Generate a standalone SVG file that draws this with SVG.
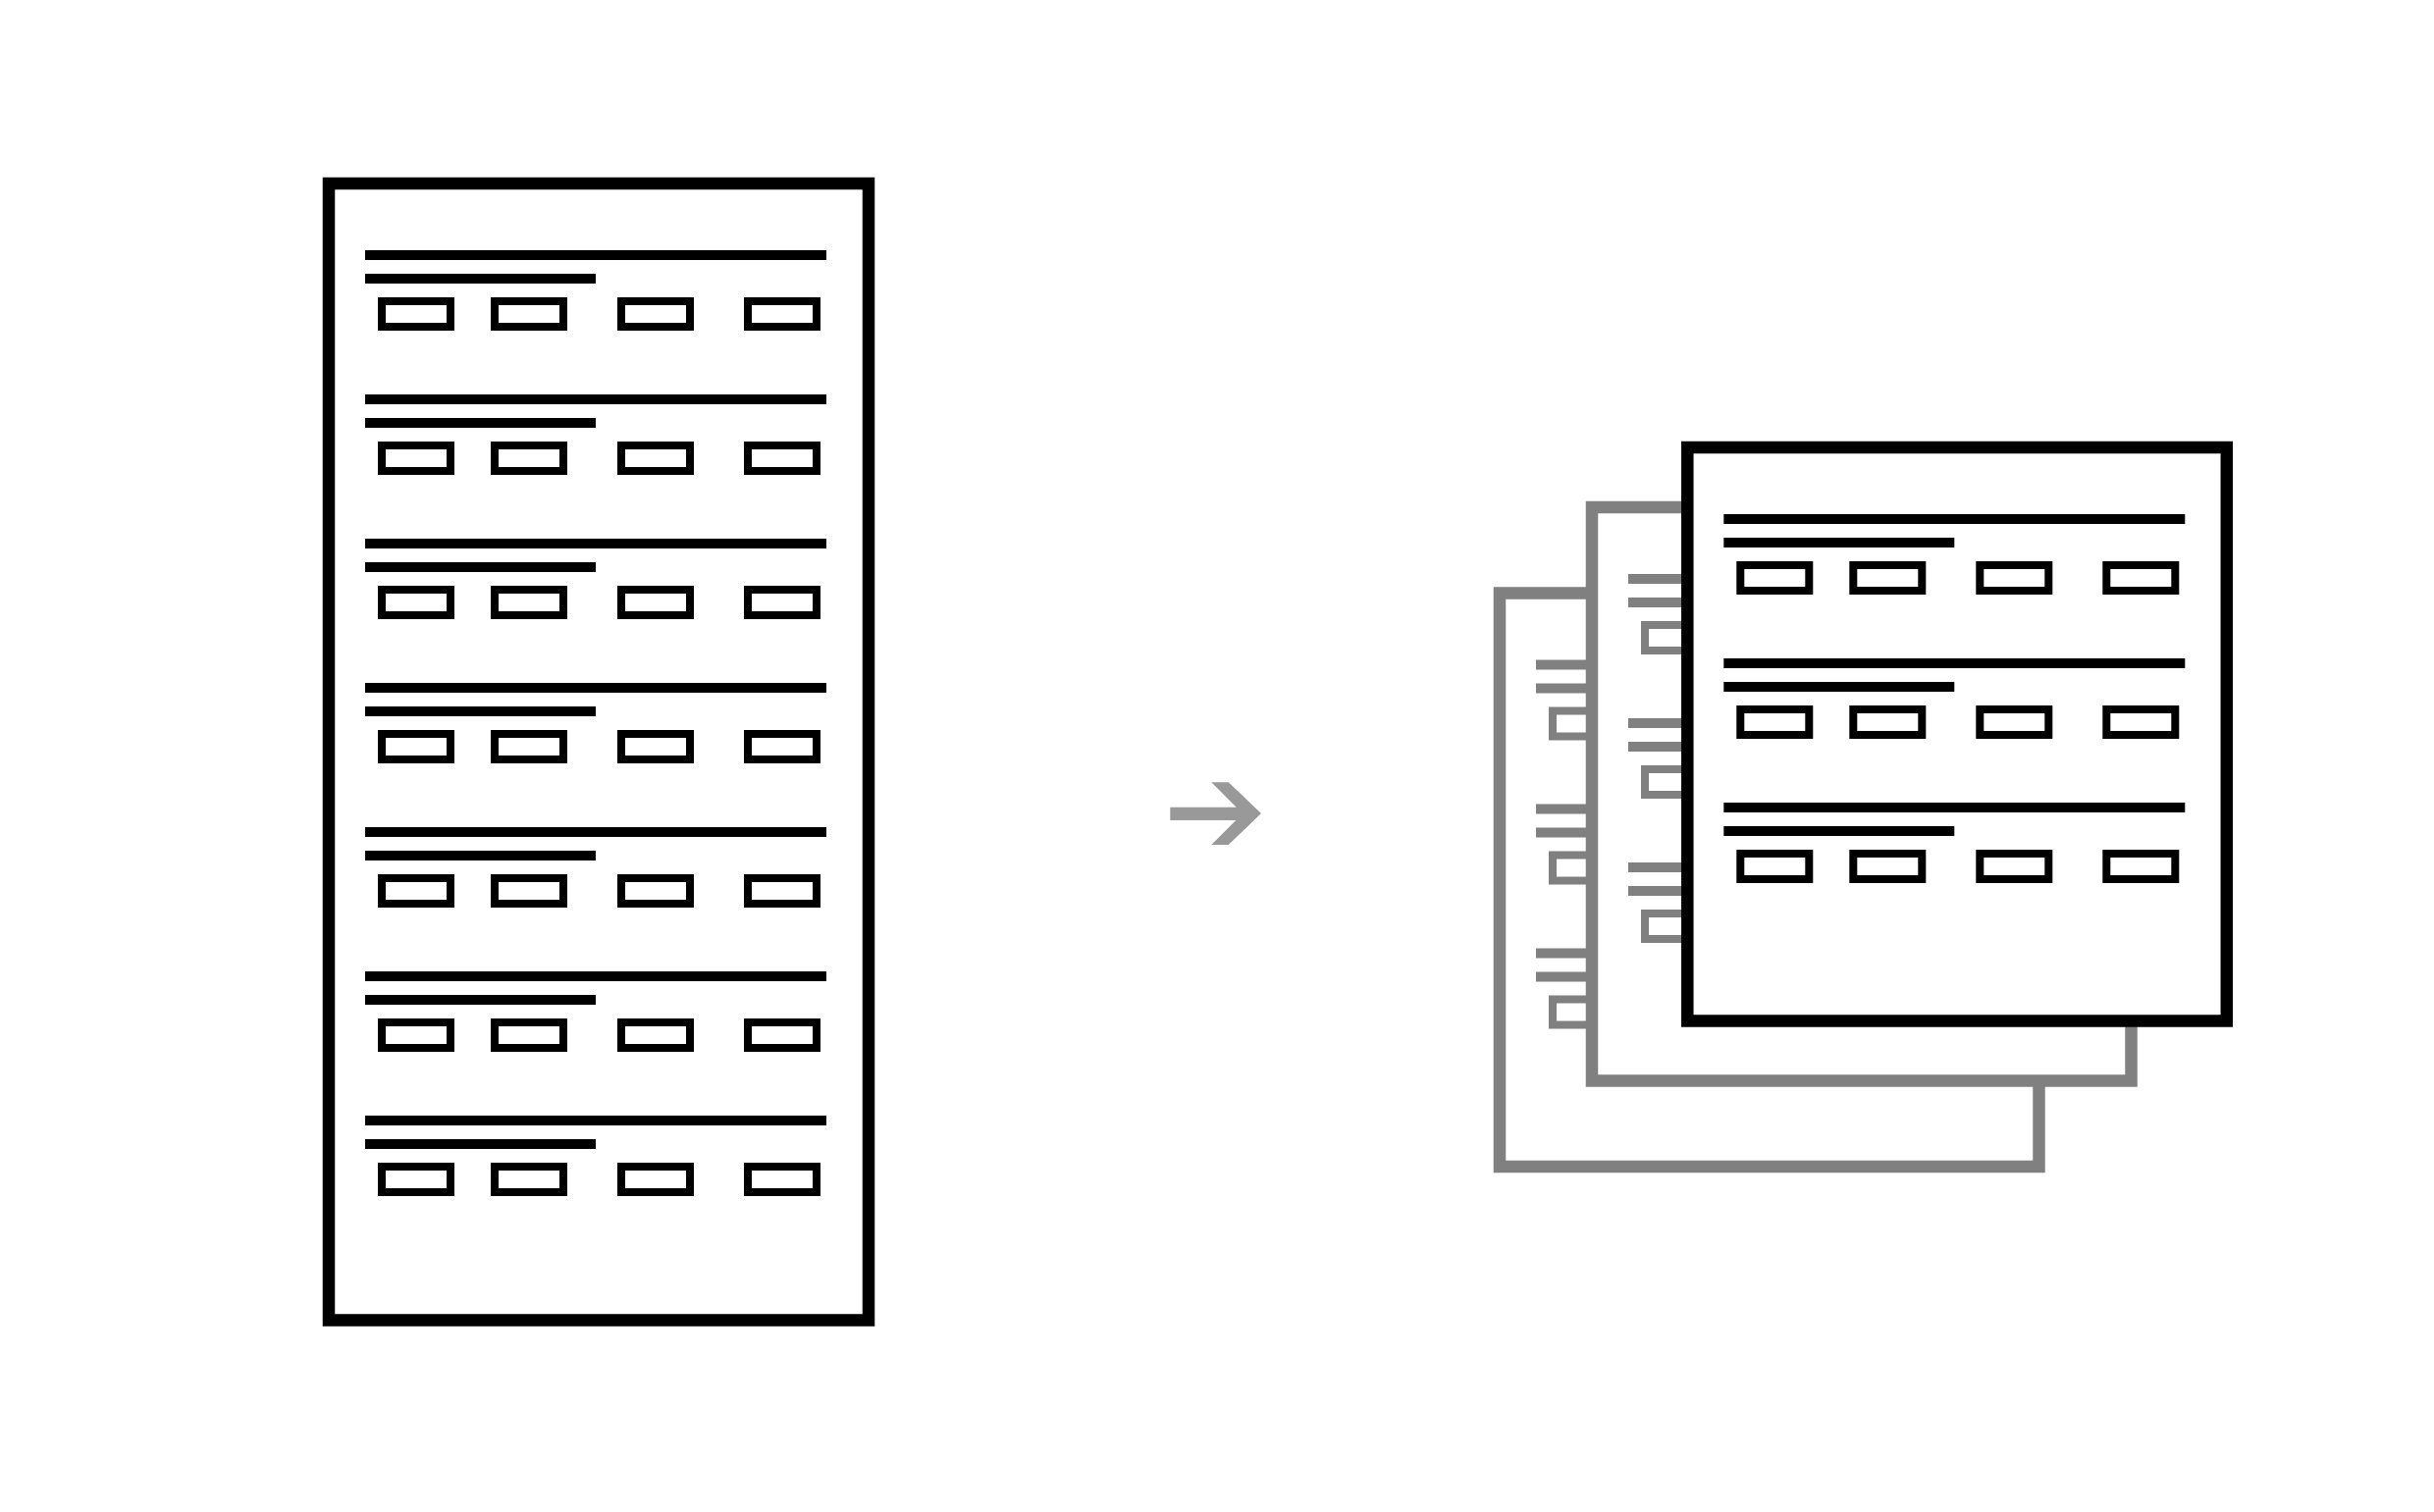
<svg xmlns="http://www.w3.org/2000/svg" xmlns:xlink="http://www.w3.org/1999/xlink" width="2480" height="1541" viewBox="0 0 2480 1541">
<style>
.frame{fill:#ffffff;stroke:currentColor;stroke-width:12.5}
.black{color:#000000}
.gray{color:#808080}
</style>
<defs>
<g id="row">
<rect x="37" y="68" width="470" height="10" fill="currentColor"/>
<rect x="37" y="92" width="235" height="10" fill="currentColor"/>
<g fill="none" stroke="currentColor" stroke-width="8">
<rect x="54" y="120" width="70" height="26"/>
<rect x="169" y="120" width="70" height="26"/>
<rect x="298" y="120" width="70" height="26"/>
<rect x="427" y="120" width="70" height="26"/>
</g>
</g>
<g id="doc3">
<rect class="frame" x="0" y="0" width="549.5" height="584.5"/>
<use xlink:href="#row"/>
<use xlink:href="#row" y="147"/>
<use xlink:href="#row" y="294"/>
</g>
</defs>
<rect width="2480" height="1541" fill="#ffffff"/>
<g id="source-doc" class="black" transform="translate(335,187)">
<rect class="frame" x="0" y="0" width="550" height="1158.5"/>
<use xlink:href="#row"/>
<use xlink:href="#row" y="147"/>
<use xlink:href="#row" y="294"/>
<use xlink:href="#row" y="441"/>
<use xlink:href="#row" y="588"/>
<use xlink:href="#row" y="735"/>
<use xlink:href="#row" y="882"/>
</g>
<g id="page-back" class="gray" transform="translate(1528,604.5)">
<use xlink:href="#doc3"/>
</g>
<g id="page-middle" class="gray" transform="translate(1622,517)">
<use xlink:href="#doc3"/>
</g>
<g id="page-front" class="black" transform="translate(1719.3,456)">
<use xlink:href="#doc3"/>
</g>
<g id="connectors" fill="#999999">
<polygon points="1192.3,822.7 1259.7,822.7 1234.3,797.3 1251.7,797.3 1285,829 1251.7,861 1234.3,861 1259.3,836 1192.3,836"/>
</g>
</svg>
